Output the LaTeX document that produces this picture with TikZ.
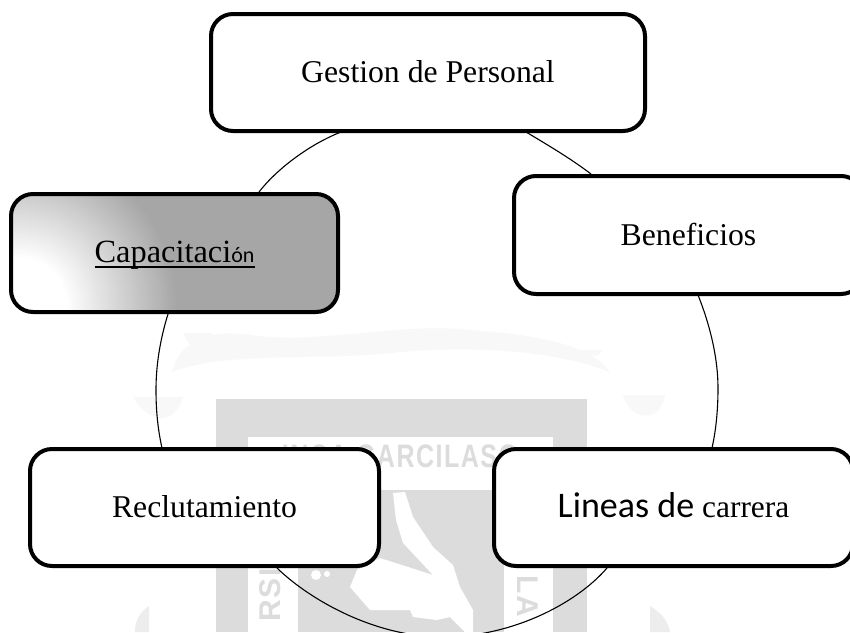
\documentclass[tikz,border=0pt]{standalone}
\usepackage{fontspec}
\setmainfont{Liberation Serif}
\newfontfamily\calfont{Carlito}
\newfontfamily\wmfont{Liberation Sans}[LetterSpace=6]
\definecolor{wmgray}{HTML}{DCDCDC}
\definecolor{wmfaint}{HTML}{F8F8F8}
\definecolor{wmblob}{HTML}{EDEDED}
\definecolor{capgray}{HTML}{A6A6A6}
\tikzset{
  cyclebox/.style={draw=black,fill=white,line width=4pt,rounded corners=22pt,inner sep=0pt,anchor=base,align=center,font=\fontsize{31.7}{36}\selectfont},
  ringarc/.style={draw=black,line width=1.1pt},
  wmfill/.style={fill=wmgray,draw=none},
  wmwhite/.style={fill=white,draw=none},
  wmtext/.style={text=wmgray,inner sep=0pt,font=\wmfont\bfseries},
}
\begin{document}
\begin{tikzpicture}[x=1pt,y=-1pt]
\clip (0,0) rectangle (850,632);
\useasboundingbox (0,0) rectangle (850,632);
\fill[white] (0,0) rectangle (850,632);
% faint wreath of the watermark
\fill[wmfaint] (172,372) .. controls (178,345) and (205,328) .. (250,335) .. controls (320,345) and (400,322) .. (470,330) .. controls (540,335) and (590,345) .. (610,372) .. controls (560,352) and (480,345) .. (400,352) .. controls (320,362) and (230,350) .. (172,372) -- cycle;
\fill[wmfaint] (133,397) .. controls (150,425) and (175,425) .. (183,397) -- cycle;
\fill[wmfaint] (183,333) .. controls (195,358) and (205,355) .. (213,333) -- cycle;
\fill[wmfaint] (580,350) .. controls (590,358) and (598,358) .. (603,350) -- cycle;
\fill[wmfaint] (623,395) .. controls (630,420) and (660,425) .. (665,395) -- cycle;
\fill[wmblob] (135,632) .. controls (135,620) and (140,612) .. (149,606) -- (149,632) -- cycle;
\fill[wmblob] (650,606) .. controls (660,612) and (668,620) .. (670,632) -- (650,632) -- cycle;
% shield of the watermark
\path[wmfill] (216,399) rectangle (587,632);
\path[wmwhite] (248,437) rectangle (553,490);
\path[wmwhite] (248,490) rectangle (298,632);
\path[wmwhite] (504,490) rectangle (553,632);
\node[wmtext,anchor=base,font=\wmfont\bfseries\fontsize{25}{30}\selectfont] (wmname) at (400,467) {\scalebox{1}[1.3]{INCA GARCILASO}};
\node[wmtext,rotate=90,anchor=base east,font=\wmfont\bfseries\fontsize{30}{30}\selectfont] (wmleft) at (280,568) {RSI};
\node[wmtext,rotate=-90,anchor=base west,font=\wmfont\bfseries\fontsize{30}{30}\selectfont] (wmright) at (517,575) {LA};
% hand
\path[wmwhite] (393,493) -- (405,492) -- (413,517) -- (433,547) -- (453,565) -- (460,587) -- (473,610) -- (473,632)
  -- (465,632) -- (450,617) -- (437,620) -- (413,617) -- (410,610) -- (370,610) -- (350,587) -- (357,570) -- (380,558) -- (433,575) -- (403,543) -- (396,520) -- cycle;
\fill[white] (316,575) circle (5);
\fill[white] (327,574) circle (3);
% nodes
\node[cyclebox,minimum width=434pt,text height=68pt,text depth=49pt] (gestion) at (428,82) {Gestion de Personal};
\node[cyclebox,minimum width=349pt,text height=69pt,text depth=49pt] (beneficios) at (688.5,245) {Beneficios};
\node[cyclebox,minimum width=359pt,text height=68pt,text depth=49pt] (lineas) at (673.5,517) {{\calfont\fontsize{36}{36}\selectfont Lineas de} \fontsize{31.4}{36}\selectfont carrera};
\node[cyclebox,minimum width=349pt,text height=68pt,text depth=49pt] (reclutamiento) at (204.5,517) {Reclutamiento};
\node[cyclebox,minimum width=327pt,text height=68pt,text depth=50pt,fill=capgray,
  path picture={
    \foreach \r in {158,156,...,48}{
      \pgfmathsetmacro\mixv{100*(\r-47)/111}
      \fill[capgray!\mixv!white] ([shift={(9,-7)}]path picture bounding box.south west) circle (\r pt);
    }
    \fill[white] ([shift={(9,-7)}]path picture bounding box.south west) circle (47pt);
  }] (capacitacion) at (174.5,262)
  {\makebox[0pt][l]{\rule[-5.5pt]{160pt}{1.5pt}}\fontsize{32.4}{36}\selectfont Capacitaci{\calfont\fontsize{22}{24}\selectfont ón}};
% ring arcs
\coordinate (a1s) at (341,132);
\coordinate (a1e) at (259,192);
\coordinate (a2s) at (526,132);
\coordinate (a2e) at (591,174);
\coordinate (a3s) at (698,295);
\coordinate (a3m) at (718,388);
\coordinate (a3e) at (712,448);
\coordinate (a4s) at (168,314);
\coordinate (a4m) at (156,390);
\coordinate (a4e) at (162,448);
\coordinate (a5s) at (277,568);
\coordinate (a5m) at (443,637);
\coordinate (a5e) at (607,568);
\draw[ringarc] (a1s) .. controls (308,145) and (276,170) .. (a1e);
\draw[ringarc] (a2s) .. controls (546,144) and (570,158) .. (a2e);
\draw[ringarc] (a3s) .. controls (710,325) and (718,358) .. (a3m) .. controls (718,410) and (716,430) .. (a3e);
\draw[ringarc] (a4s) .. controls (160,340) and (156,365) .. (a4m) .. controls (156,412) and (158,430) .. (a4e);
\draw[ringarc] (a5s) .. controls (310,600) and (375,637) .. (a5m) .. controls (510,637) and (575,605) .. (a5e);
\end{tikzpicture}
\end{document}
